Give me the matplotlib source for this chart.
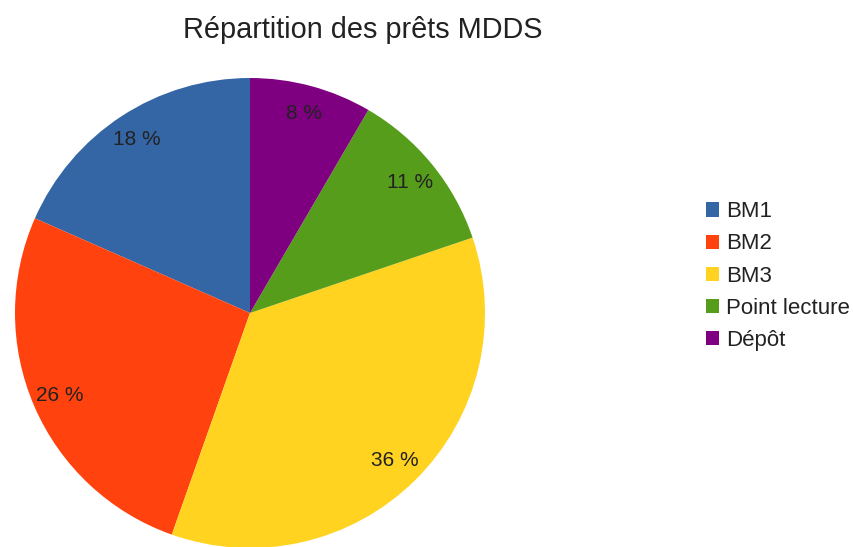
import matplotlib
matplotlib.use("Agg")
import matplotlib.pyplot as plt

categories = ["BM1", "BM2", "BM3", "Point lecture", "Dépôt"]
values = [18.4, 26.2, 35.6, 11.4, 8.4]
colors = ["#3465a4", "#ff420e", "#ffd320", "#579d1c", "#7e0080"]
title = "Répartition des prêts MDDS"

plt.rcParams['font.family'] = ['Liberation Sans', 'DejaVu Sans']

W, H = 854, 547
fig = plt.figure(figsize=(W / 100, H / 100), dpi=100)
cx, cy, r = 250, 313, 235
ax = fig.add_axes([(cx - r) / W, (H - cy - r) / H, 2 * r / W, 2 * r / H])

wedges, texts, autotexts = ax.pie(
    values, colors=colors, startangle=90, counterclock=True,
    autopct=lambda p: f"{p:.0f} %", pctdistance=0.88, radius=1,
    textprops=dict(fontsize=15, color="#222222"),
    wedgeprops=dict(linewidth=0))
ax.set_xlim(-1, 1)
ax.set_ylim(-1, 1)
ax.set_aspect('auto')
ax.axis('off')

fig.text(363 / W, 1 - 38 / H, title, ha='center', va='baseline', fontsize=20.8, color="#222222")

leg = fig.legend(wedges, categories, loc='center left', bbox_to_anchor=(706 / W, 1 - 276 / H),
                 frameon=False, fontsize=16, handlelength=0.6, handleheight=0.6,
                 handletextpad=0.3, labelspacing=0.5, borderaxespad=0, borderpad=0)
for t in leg.get_texts():
    t.set_color("#222222")

fig.savefig("out.png", dpi=100)
